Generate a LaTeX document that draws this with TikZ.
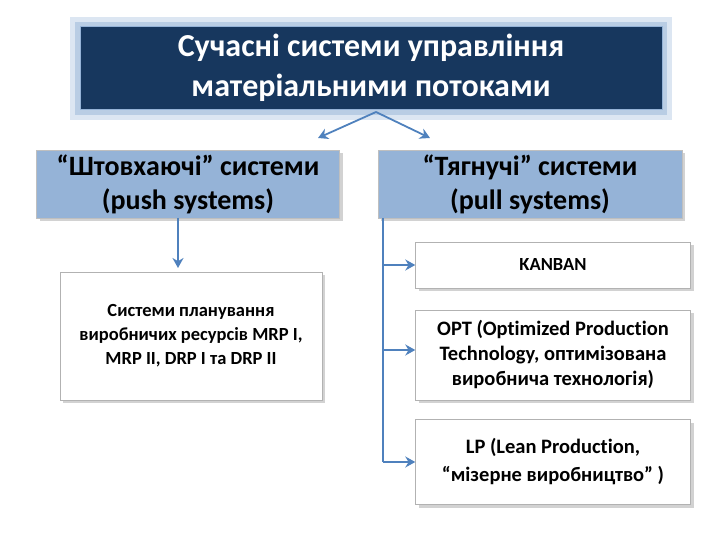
\documentclass[tikz,border=0pt]{standalone}
\usepackage{fontspec}
\setmainfont[Ligatures=NoCommon]{Carlito}
\usetikzlibrary{shadows,arrows.meta}
\definecolor{navy}{HTML}{17375E}
\definecolor{lblue}{HTML}{95B3D7}
\definecolor{arr}{HTML}{4F81BD}
\begin{document}
\begin{tikzpicture}[x=1pt,y=-1pt,
  wbox/.style={draw=gray!60,fill=white,align=center,inner sep=2pt,drop shadow={shadow xshift=3pt,shadow yshift=-3pt,fill=gray!70},font=\bfseries\fontsize{18.5}{24}\selectfont},
  bbox/.style={draw=gray!50,fill=lblue,align=center,drop shadow={shadow xshift=3pt,shadow yshift=-3pt,fill=gray!70},font=\bfseries\fontsize{28}{34}\selectfont},
  con/.style={draw=arr,line width=1.8pt,-{Stealth[length=10pt,width=11pt]}}]
\useasboundingbox (0,0) rectangle (720,540);
\fill[arr!20] (70,17) rectangle (672,120);
\fill[arr!40] (75,22) rectangle (667,115);
\node[fill=navy,draw=arr!60,minimum width=582pt,minimum height=83pt,text=white,align=center,font=\bfseries\fontsize{32}{40}\selectfont] (top) at (371,68) {Сучасні системи управління\\матеріальними потоками};
\node[bbox,minimum width=303pt,minimum height=68pt] (push) at (188,184) {“Штовхаючі” системи\\(push systems)};
\node[bbox,minimum width=304pt,minimum height=68pt] (pull) at (530,184) {“Тягнучі” системи\\(pull systems)};
\node[wbox,minimum width=262pt,minimum height=128pt] (mrp) at (191,336) {Системи планування\\виробничих ресурсів MRP I,\\MRP II, DRP I та DRP II};
\node[wbox,minimum width=275pt,minimum height=46pt] (kan) at (553,265) {KANBAN};
\node[wbox,minimum width=275pt,minimum height=90pt,font=\bfseries\fontsize{20.5}{25}\selectfont] (opt) at (553,355) {OPT (Optimized Production\\Technology, оптимізована\\виробнича технологія)};
\node[wbox,minimum width=275pt,minimum height=85pt,font=\bfseries\fontsize{20.5}{28}\selectfont] (lp) at (553,462) {LP (Lean Production,\\“мізерне виробництво” )};
\coordinate (tb) at (376,112);
\coordinate (ta) at (318,138);
\coordinate (tc) at (430,138);
\draw[con] (tb) -- (ta);
\draw[con] (tb) -- (tc);
\draw[con] (178,218) -- (178,268);
\coordinate (r0) at (383,218);
\coordinate (r1) at (383,462);
\draw[draw=arr,line width=1.8pt] (r0) -- (r1);
\draw[con] (383,265) -- (kan.west);
\draw[con] (383,350) -- (opt.west |- 0,350);
\draw[con] (r1) -- (lp.west |- r1);
\end{tikzpicture}
\end{document}
